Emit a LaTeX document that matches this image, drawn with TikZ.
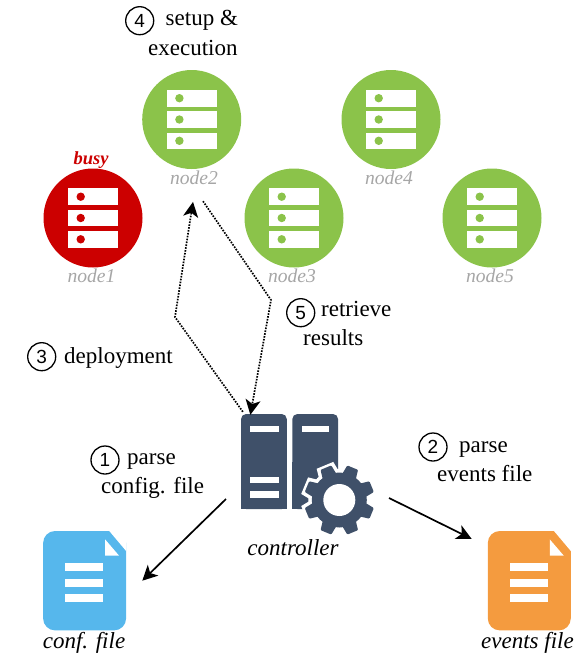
\documentclass[tikz,border=0pt]{standalone}
\usepackage{fontspec}
\setmainfont{Liberation Serif}
\newfontfamily\digitfont{Liberation Sans}
\usetikzlibrary{arrows.meta, positioning}

\definecolor{okgreen}{HTML}{8BC34A}
\definecolor{busyred}{HTML}{CC0000}
\definecolor{navy}{HTML}{3F5069}
\definecolor{confblue}{HTML}{56B7EC}
\definecolor{evorange}{HTML}{F49B3F}
\definecolor{lblgray}{HTML}{A6A6A6}

\begin{document}
\begin{tikzpicture}[x=1pt, y=-1pt,
      srv/.style={circle, minimum size=99pt, inner sep=0pt},
      filebox/.style={minimum width=83pt, minimum height=99.4pt, rounded corners=12pt, inner sep=0pt},
      rackbox/.style={fill=navy, minimum width=45.7pt, minimum height=95pt, rounded corners=5pt, inner sep=0pt},
      txt/.style={font=\fontsize{23}{26}\selectfont, anchor=base west, inner sep=0pt},
      num/.style={circle, draw, line width=1.3pt, minimum size=28pt, inner sep=0pt, font=\digitfont\fontsize{19}{20}\selectfont},
      caplbl/.style={font=\itshape\fontsize{23}{26}\selectfont, anchor=base, inner sep=0pt},
      nlbl/.style={font=\itshape\fontsize{19.6}{22}\selectfont, text=lblgray, anchor=base, inner sep=0pt},
      flow/.style={-{Stealth[length=15pt, width=15pt, inset=4pt]}, line width=1.7pt},
      dots/.style={-{Stealth[length=15pt, width=15pt, inset=4pt]}, line width=1.7pt, dash pattern=on 1.6pt off 1.3pt},
      rack/.pic={
        \foreach \y in {-21.3, 0, 21.3} {
          \fill[white] (-25, \y-8.3) rectangle (25, \y+8.3);
          \fill[pic actions] (-12.3, \y) circle (4.2);
        }
      },
      doc/.pic={
        \fill[white] (41.6,-49.8) -- (24.6,-49.8) -- (41.6,-29.6) -- cycle;
        \fill[white] (20.5,-41.3) -- (20.5,-25) -- (34.5,-25) -- cycle;
        \foreach \y in {-13.6, 2, 17.7}
          \fill[white] (-19.5, \y-4) rectangle (18.7, \y+4);
      }]

    % ---- page ----
    \useasboundingbox (0,0) rectangle (581,664);

    % ---- worker nodes ----
    \node[srv, fill=busyred] (node1) at (93, 218)    {};
    \node[srv, fill=okgreen] (node2) at (191.7, 119.5) {};
    \node[srv, fill=okgreen] (node3) at (294, 218)   {};
    \node[srv, fill=okgreen] (node4) at (391, 119.5) {};
    \node[srv, fill=okgreen] (node5) at (492, 218)   {};
    \pic[fill=busyred] at (node1) {rack};
    \pic[fill=okgreen] at (node2) {rack};
    \pic[fill=okgreen] at (node3) {rack};
    \pic[fill=okgreen] at (node4) {rack};
    \pic[fill=okgreen] at (node5) {rack};

    \node[nlbl] (lbl1) at (91.5, 282)  {node1};
    \node[nlbl] (lbl2) at (194, 184)   {node2};
    \node[nlbl] (lbl3) at (292, 282)   {node3};
    \node[nlbl] (lbl4) at (389, 184)   {node4};
    \node[nlbl] (lbl5) at (490, 282)   {node5};
    \node[anchor=base, inner sep=0pt, text=busyred, font=\bfseries\itshape\fontsize{18.5}{20}\selectfont] (busy) at (91, 164) {busy};

    % ---- controller ----
    \node[rackbox] (ctrlA) at (263.9, 461.5) {};
    \node[rackbox] (ctrlB) at (315.2, 461.5) {};
    \fill[navy] (ctrlA.west) rectangle (ctrlA.south east);
    \fill[navy] (ctrlB.west) rectangle (ctrlB.south east);
    \fill[white] (250, 426) rectangle (279, 432.4);
    \fill[white] (250, 476.7) rectangle (279, 482.8);
    \fill[white] (250, 491.4) rectangle (279, 497.6);
    \fill[white] (301.7, 426) rectangle (329, 432.4);

    % gear, white halo first
    \coordinate (gear) at (339.3, 500);
    \fill[white] (gear) circle (31);
    \foreach \a in {22.5, 67.5, ..., 337.5}
      \fill[white, shift={(gear)}, rotate=\a] (24,-11) -- (37.5,-9) -- (37.5,9) -- (24,11) -- cycle;
    \fill[navy] (gear) circle (27.5);
    \foreach \a in {22.5, 67.5, ..., 337.5}
      \fill[navy, shift={(gear)}, rotate=\a, rounded corners=1pt] (24,-7.5) -- (35,-5.8) -- (35,5.8) -- (24,7.5) -- cycle;
    \fill[white] (gear) circle (16);
    \node[caplbl] (ctrlLbl) at (293, 555) {controller};

    % ---- files ----
    \node[filebox, fill=confblue] (conf) at (84.6, 580.7) {};
    \node[filebox, fill=evorange] (events) at (529.3, 580.7) {};
    \pic at (conf) {doc};
    \pic at (events) {doc};
    \node[caplbl] (confLbl) at (84, 648) {conf. file};
    \node[caplbl] (eventsLbl) at (527.5, 648) {events file};

    % ---- steps ----
    \node[num] (n1) at (105, 460)     {1};
    \node[txt] (t1a) at (127, 464)    {parse};
    \node[txt] (t1b) at (101, 493)    {config. file};
    \node[num] (n2) at (433, 447)     {2};
    \node[txt] (t2a) at (459, 452)    {parse};
    \node[txt] (t2b) at (437, 481)    {events file};
    \node[num] (n3) at (41.7, 356.7)  {3};
    \node[txt] (t3) at (64, 363)      {deployment};
    \node[num] (n4) at (139.7, 20.7)  {4};
    \node[txt] (t4a) at (165.5, 25)   {setup \&};
    \node[txt] (t4b) at (148, 55)     {execution};
    \node[num] (n5) at (300.7, 312.7) {5};
    \node[txt] (t5a) at (321, 316)    {retrieve};
    \node[txt] (t5b) at (303, 345)    {results};

    % ---- connectors ----
    \coordinate (depBend) at (175, 317);
    \coordinate (retBend) at (271, 300);
    \coordinate (ctrlOut1) at (226, 499);
    \coordinate (ctrlOut2) at (389, 498);
    \draw[dots] ([shift={(2,-2)}]ctrlA.north west) -- (depBend) -- ([shift={(1.3,32.7)}]node2.south);
    \draw[dots] ([shift={(11.3,32)}]node2.south) -- (retBend) -- ([shift={(9.5,1)}]ctrlA.north west);
    \draw[flow] (ctrlOut1) -- ([shift={(16,0)}]conf.east);
    \draw[flow] (ctrlOut2) -- ([shift={(-16,8)}]events.north west);

\end{tikzpicture}
\end{document}
